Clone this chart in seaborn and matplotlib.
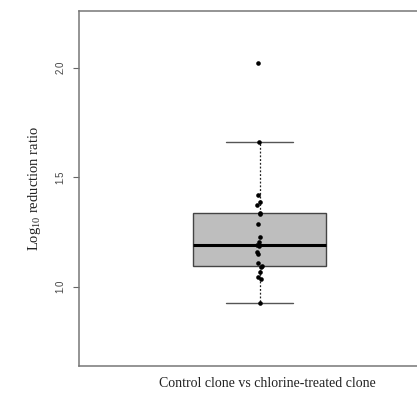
import numpy as np
import pandas as pd
import seaborn as sns
import matplotlib.pyplot as plt

# log10 reduction ratios
ratios = [0.927, 1.034, 1.043, 1.069, 1.088, 1.096, 1.110, 1.149, 1.160, 1.185,
          1.190, 1.205, 1.226, 1.285, 1.330, 1.335, 1.373, 1.388, 1.419, 1.659, 2.02]
group = 'Control clone vs chlorine-treated clone'
yticks = [1.0, 1.5, 2.0]

df = pd.DataFrame({'group': group, 'ratio': ratios})

sns.set_theme(style='ticks')
plt.rcParams['font.family'] = ['Liberation Serif', 'DejaVu Serif']
plt.rcParams['mathtext.fontset'] = 'custom'
plt.rcParams['mathtext.rm'] = 'Liberation Serif'

fig = plt.figure(figsize=(4.17, 3.93), dpi=100)
# right edge sits past the figure, as in the cropped original
ax = fig.add_axes([79/417, 1 - 366/393, 361/417, 355/393])

sns.boxplot(data=df, x='group', y='ratio', ax=ax, width=0.367, showfliers=False,
            color='#bebebe', linecolor='#444444', linewidth=1,
            medianprops={'color': 'black', 'linewidth': 2.2},
            whiskerprops={'color': '#222222', 'linestyle': (0, (1.5, 1.5)), 'linewidth': 0.9},
            capprops={'color': '#555555', 'linewidth': 1})
np.random.seed(3)
sns.stripplot(data=df, x='group', y='ratio', ax=ax, jitter=0.007, color='black',
              size=3.3, linewidth=0, zorder=5)

ax.set_xlim(-0.5, 0.5)
ax.set_ylim(0.638, 2.259)
ax.set_xticks([])
ax.set_yticks(yticks)
ax.set_yticklabels([f'{t:.1f}' for t in yticks], rotation=90, va='center',
                   fontsize=7, family='Liberation Sans', color='#444444')
ax.tick_params(axis='y', length=4, width=0.8, color='#666666', pad=6)
for s in ax.spines.values():
    s.set_color('#777777')
    s.set_linewidth(1.1)

ax.set_xlabel(group, fontsize=10, color='#222222')
ax.xaxis.set_label_coords(0.521, -0.03)
ax.set_ylabel('Log$_{\\mathregular{10}}$ reduction ratio', fontsize=10.5, color='#222222')
ax.yaxis.set_label_coords(-0.1, 0.5)

fig.savefig('out.png', dpi=100)
